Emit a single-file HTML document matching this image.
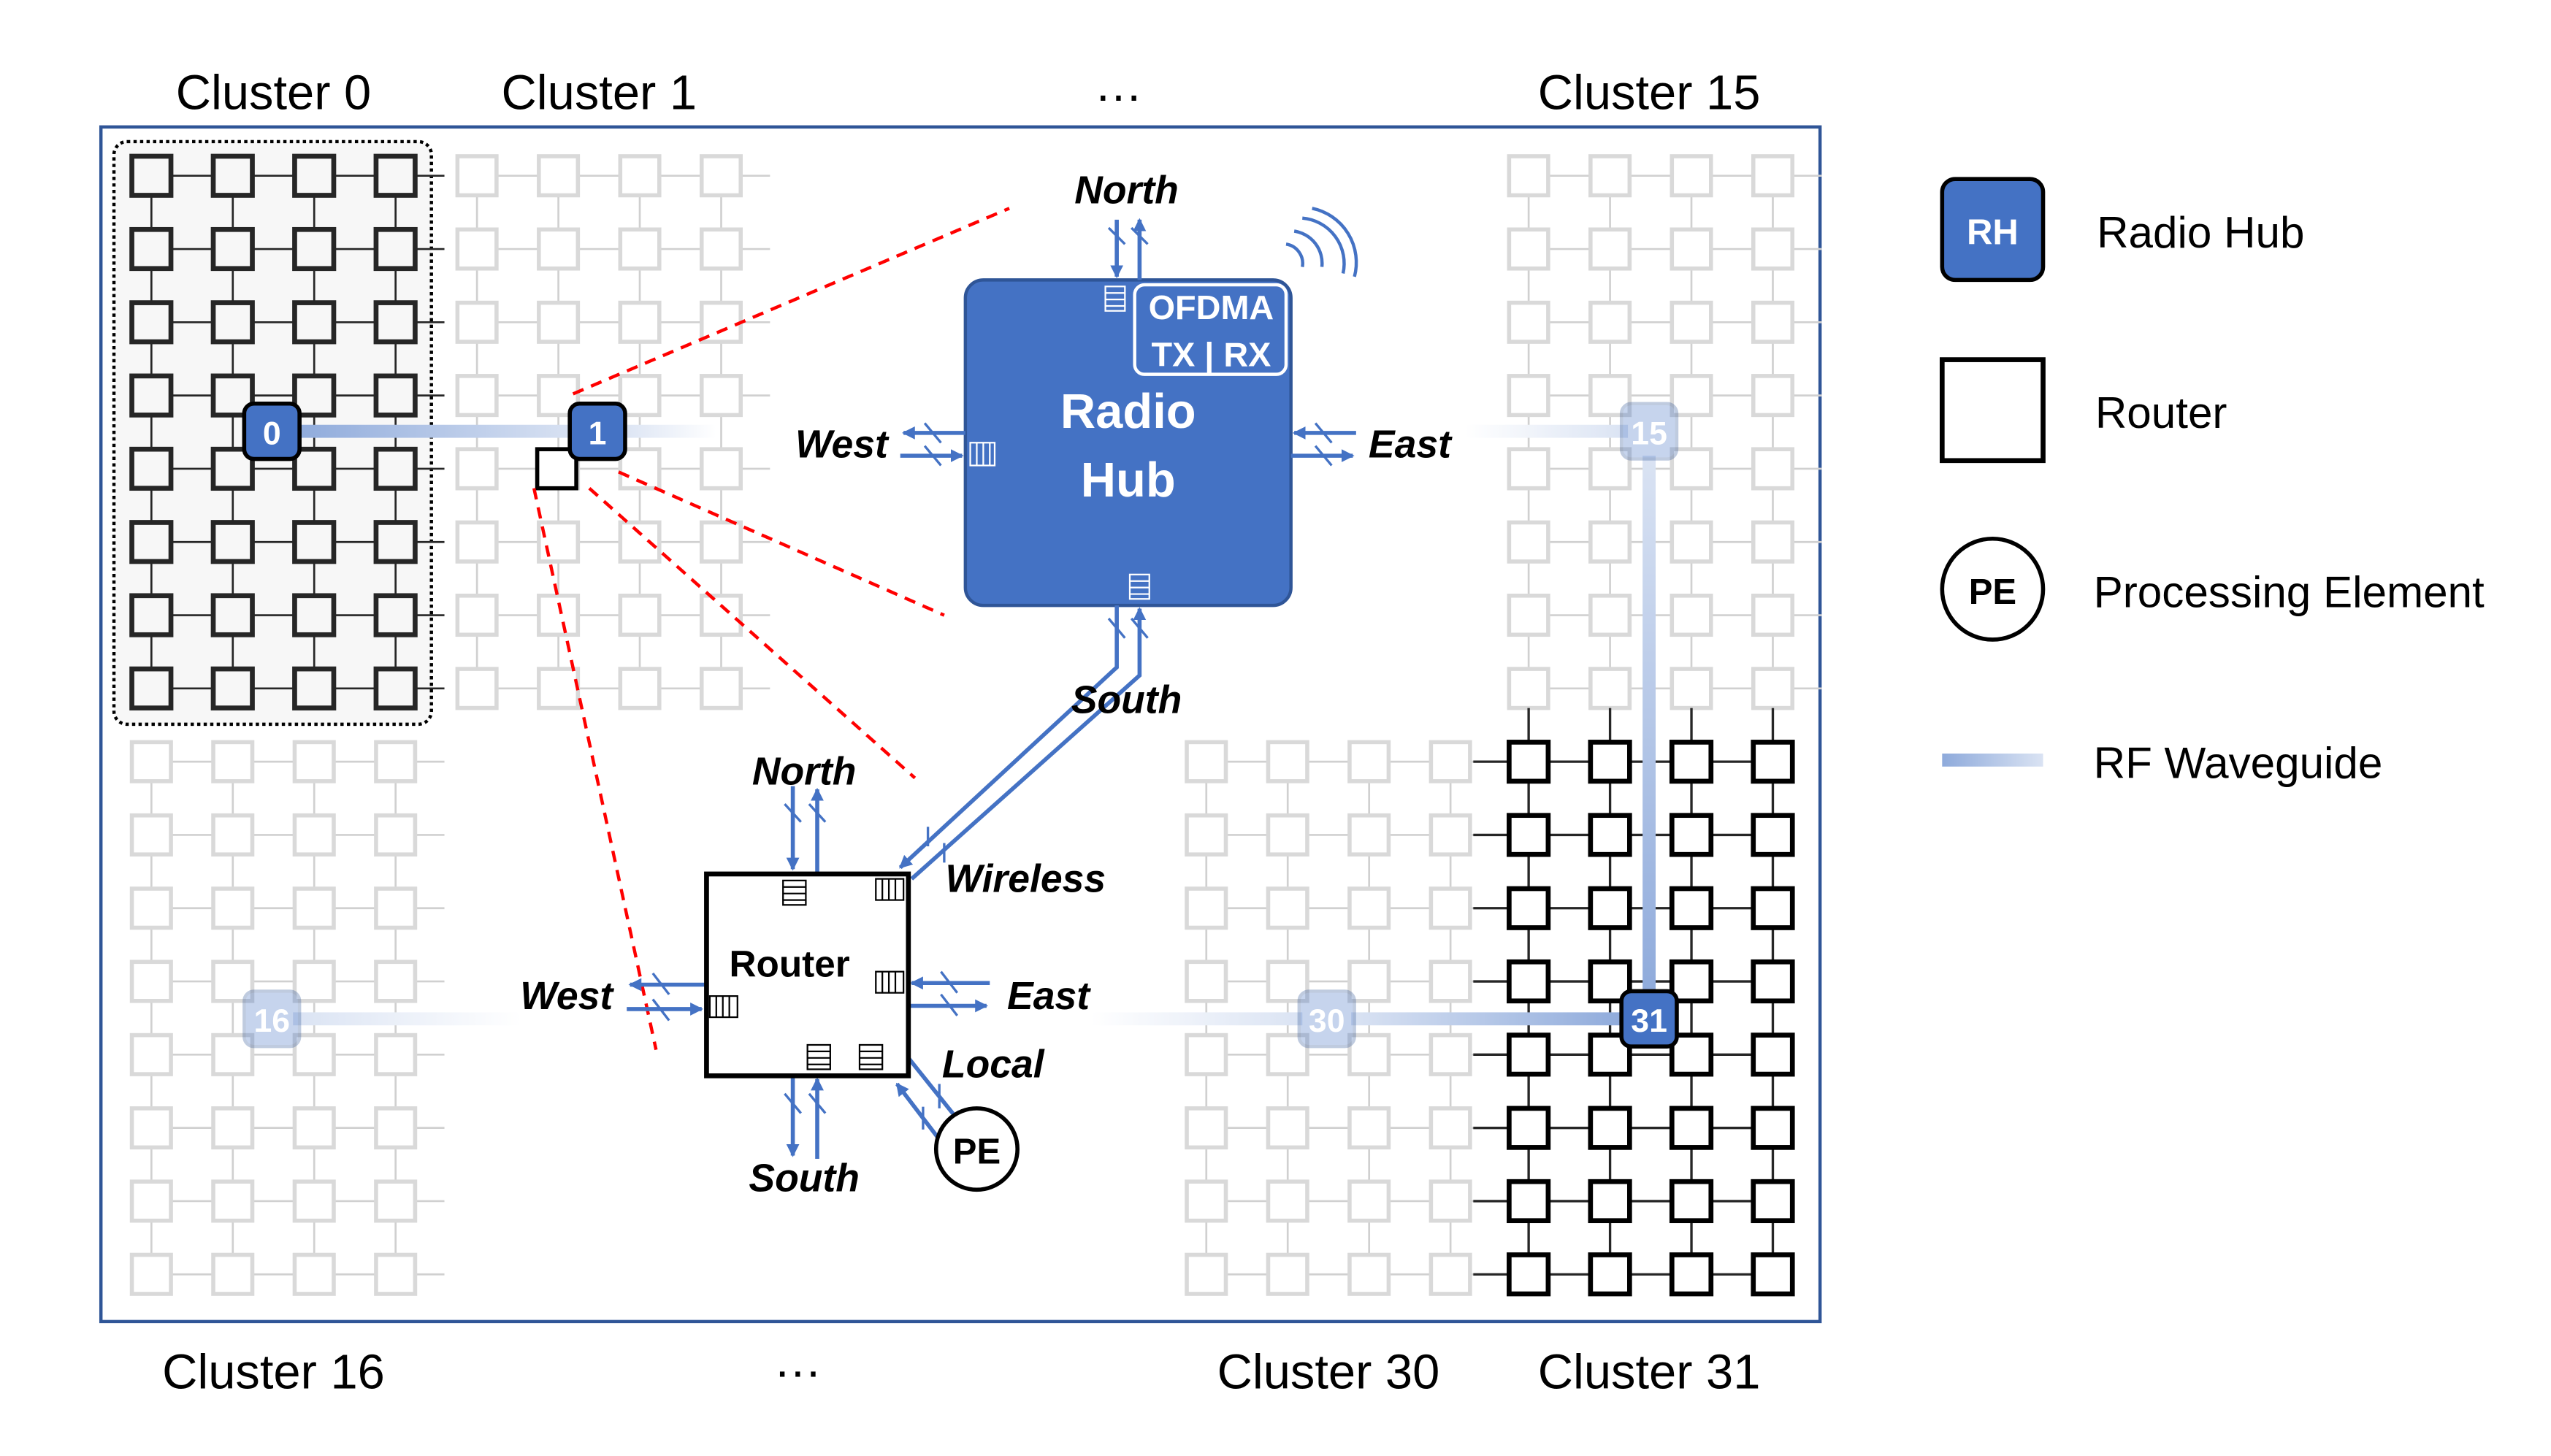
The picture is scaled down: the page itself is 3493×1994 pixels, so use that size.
<!DOCTYPE html>
<html><head><meta charset="utf-8"><style>
html,body{margin:0;padding:0;background:#fff;}
svg{display:block;}
text{font-family:"Liberation Sans",sans-serif;}
.bi{font-weight:bold;font-style:italic;font-size:24px;fill:#000;}
.cl{font-size:30px;fill:#000;text-anchor:middle;}
.lg{font-size:27px;fill:#000;}
</style></head><body>
<svg id="s" width="3493" height="1994" viewBox="0 0 1567 894.6" preserveAspectRatio="none" xmlns="http://www.w3.org/2000/svg">
<defs>
<marker id="ah" markerWidth="8" markerHeight="8" refX="7" refY="4" orient="auto" markerUnits="userSpaceOnUse"><path d="M0,0 L8,4 L0,8 z" fill="#4472c4"/></marker>
<linearGradient id="wgh" x1="0" x2="1" y1="0" y2="0"><stop offset="0" stop-color="#8eaadb"/><stop offset="1" stop-color="#dae3f3"/></linearGradient>
<linearGradient id="fadeR" x1="0" x2="1"><stop offset="0" stop-color="#dae3f3"/><stop offset="1" stop-color="#fff"/></linearGradient>
<linearGradient id="fadeL" x1="0" x2="1"><stop offset="0" stop-color="#fff"/><stop offset="1" stop-color="#dae3f3"/></linearGradient>
<linearGradient id="wgv" x1="0" x2="0" y1="0" y2="1"><stop offset="0" stop-color="#dae3f3"/><stop offset="1" stop-color="#8eaadb"/></linearGradient>
<linearGradient id="wg31" x1="0" x2="1"><stop offset="0" stop-color="#dae3f3"/><stop offset="1" stop-color="#8eaadb"/></linearGradient>
</defs>
<rect x="62" y="78" width="1056" height="734" fill="#fff" stroke="#2f5597" stroke-width="2"/>
<rect x="70" y="87" width="195" height="358" rx="8" fill="#f7f7f7" stroke="#000" stroke-width="2" stroke-dasharray="2,2"/>
<g id="grid"></g>
<rect x="180" y="261" width="175" height="8" fill="url(#wgh)"/>
<rect x="380" y="261" width="60" height="8" fill="url(#fadeR)"/>
<rect x="900" y="261" width="100" height="8" fill="url(#fadeL)"/>
<rect x="1009" y="280" width="8" height="335" fill="url(#wgv)"/>
<rect x="180" y="622" width="140" height="8" fill="url(#fadeR)"/>
<rect x="670" y="622" width="130" height="8" fill="url(#fadeL)"/>
<rect x="830" y="622" width="170" height="8" fill="url(#wg31)"/>
<rect x="330" y="276" width="24" height="24" fill="#fff" stroke="#000" stroke-width="2.5"/>
<g font-weight="bold" font-size="20" text-anchor="middle">
<rect x="150" y="248" width="34" height="34" rx="6" fill="#4472c4" stroke="#000" stroke-width="2.5"/><text x="167" y="273" fill="#fff">0</text>
<rect x="350" y="248" width="34" height="34" rx="6" fill="#4472c4" stroke="#000" stroke-width="2.5"/><text x="367" y="273" fill="#fff">1</text>
<g opacity="0.3"><rect x="996" y="248" width="34" height="34" rx="6" fill="#4472c4" stroke="#2f5597" stroke-width="2"/><text x="1013" y="273" fill="#fff">15</text>
<rect x="150" y="609" width="34" height="34" rx="6" fill="#4472c4" stroke="#2f5597" stroke-width="2"/><text x="167" y="634" fill="#fff">16</text>
<rect x="798" y="609" width="34" height="34" rx="6" fill="#4472c4" stroke="#2f5597" stroke-width="2"/><text x="815" y="634" fill="#fff">30</text></g>
<rect x="996" y="609" width="34" height="34" rx="6" fill="#4472c4" stroke="#000" stroke-width="2.5"/><text x="1013" y="634" fill="#fff">31</text>
</g>
<g stroke="#ff0000" stroke-width="2" stroke-dasharray="7,5" fill="none">
<line x1="352" y1="242" x2="620" y2="128"/>
<line x1="380" y1="290" x2="580" y2="378"/>
<line x1="362" y1="300" x2="562" y2="478"/>
<line x1="328" y1="300" x2="403" y2="645"/>
</g>
<rect x="593" y="172" width="200" height="200" rx="11" fill="#4472c4" stroke="#2f5597" stroke-width="2"/>
<rect x="697" y="175" width="93" height="55" rx="6" fill="none" stroke="#fff" stroke-width="2"/>
<text x="744" y="196" fill="#fff" font-weight="bold" font-size="21" text-anchor="middle">OFDMA</text>
<text x="744" y="225" fill="#fff" font-weight="bold" font-size="21" text-anchor="middle">TX | RX</text>
<text x="693" y="263" fill="#fff" font-weight="bold" font-size="30" text-anchor="middle">Radio</text>
<text x="693" y="305" fill="#fff" font-weight="bold" font-size="30" text-anchor="middle">Hub</text>
<g stroke="#fff" stroke-width="1" fill="none">
<rect x="679" y="176" width="12" height="15"/><line x1="679" y1="180" x2="691" y2="180"/><line x1="679" y1="184" x2="691" y2="184"/><line x1="679" y1="188" x2="691" y2="188"/>
<rect x="694" y="353" width="12" height="15"/><line x1="694" y1="357" x2="706" y2="357"/><line x1="694" y1="361" x2="706" y2="361"/><line x1="694" y1="365" x2="706" y2="365"/>
<rect x="596" y="272" width="15" height="14"/><line x1="600" y1="272" x2="600" y2="286"/><line x1="604" y1="272" x2="604" y2="286"/><line x1="608" y1="272" x2="608" y2="286"/>
</g>
<g stroke="#4472c4" stroke-width="2" fill="none">
<path d="M790,150 a12,12 0 0 1 10,14"/><path d="M795,142 a20,20 0 0 1 17,22"/><path d="M800,134 a28,28 0 0 1 25,34"/><path d="M806,128 a34,34 0 0 1 26,42"/>
</g>
<g stroke="#4472c4" stroke-width="2.5" fill="none">
<line x1="686" y1="135" x2="686" y2="170" marker-end="url(#ah)"/>
<line x1="700" y1="172" x2="700" y2="135" marker-end="url(#ah)"/>
<line x1="593" y1="266" x2="555" y2="266" marker-end="url(#ah)"/>
<line x1="553" y1="280" x2="591" y2="280" marker-end="url(#ah)"/>
<line x1="833" y1="266" x2="795" y2="266" marker-end="url(#ah)"/>
<line x1="793" y1="280" x2="831" y2="280" marker-end="url(#ah)"/>
<polyline points="686,372 686,410 553,533" marker-end="url(#ah)"/>
<polyline points="560,540 700,415 700,374" marker-end="url(#ah)"/>
<line x1="487" y1="483" x2="487" y2="534" marker-end="url(#ah)"/>
<line x1="502" y1="536" x2="502" y2="485" marker-end="url(#ah)"/>
<line x1="433" y1="605" x2="387" y2="605" marker-end="url(#ah)"/>
<line x1="385" y1="620" x2="431" y2="620" marker-end="url(#ah)"/>
<line x1="608" y1="604" x2="560" y2="604" marker-end="url(#ah)"/>
<line x1="558" y1="618" x2="606" y2="618" marker-end="url(#ah)"/>
<line x1="487" y1="661" x2="487" y2="710" marker-end="url(#ah)"/>
<line x1="502" y1="712" x2="502" y2="663" marker-end="url(#ah)"/>
<line x1="558" y1="650" x2="590" y2="690" marker-end="url(#ah)"/>
<line x1="583" y1="708" x2="551" y2="666" marker-end="url(#ah)"/>
</g>
<g stroke="#4472c4" stroke-width="1.5">
<line x1="681" y1="140" x2="691" y2="150"/><line x1="695" y1="140" x2="705" y2="150"/>
<line x1="568" y1="260" x2="578" y2="272"/><line x1="568" y1="274" x2="578" y2="286"/>
<line x1="808" y1="260" x2="818" y2="272"/><line x1="808" y1="274" x2="818" y2="286"/>
<line x1="681" y1="380" x2="691" y2="392"/><line x1="695" y1="380" x2="705" y2="392"/>
<line x1="482" y1="494" x2="492" y2="505"/><line x1="497" y1="494" x2="507" y2="505"/>
<line x1="401" y1="598" x2="411" y2="611"/><line x1="401" y1="614" x2="411" y2="627"/>
<line x1="578" y1="597" x2="588" y2="610"/><line x1="578" y1="611" x2="588" y2="624"/>
<line x1="482" y1="672" x2="492" y2="684"/><line x1="497" y1="672" x2="507" y2="684"/>
<line x1="570" y1="508" x2="570" y2="520"/><line x1="580" y1="518" x2="580" y2="530"/>
<line x1="577" y1="666" x2="577" y2="681"/><line x1="567" y1="680" x2="567" y2="694"/>
</g>
<rect x="434" y="537" width="124" height="124" fill="#fff" stroke="#000" stroke-width="3"/>
<text x="485" y="600" font-weight="bold" font-size="23" text-anchor="middle">Router</text>
<g stroke="#000" stroke-width="1" fill="none">
<rect x="481" y="541" width="14" height="15"/><line x1="481" y1="545" x2="495" y2="545"/><line x1="481" y1="549" x2="495" y2="549"/><line x1="481" y1="553" x2="495" y2="553"/>
<rect x="496" y="642" width="14" height="15"/><line x1="496" y1="646" x2="510" y2="646"/><line x1="496" y1="650" x2="510" y2="650"/><line x1="496" y1="654" x2="510" y2="654"/>
<rect x="528" y="642" width="14" height="15"/><line x1="528" y1="646" x2="542" y2="646"/><line x1="528" y1="650" x2="542" y2="650"/><line x1="528" y1="654" x2="542" y2="654"/>
<rect x="538" y="540" width="17" height="13"/><line x1="542" y1="540" x2="542" y2="553"/><line x1="546" y1="540" x2="546" y2="553"/><line x1="550" y1="540" x2="550" y2="553"/>
<rect x="538" y="597" width="17" height="13"/><line x1="542" y1="597" x2="542" y2="610"/><line x1="546" y1="597" x2="546" y2="610"/><line x1="550" y1="597" x2="550" y2="610"/>
<rect x="436" y="612" width="17" height="13"/><line x1="440" y1="612" x2="440" y2="625"/><line x1="444" y1="612" x2="444" y2="625"/><line x1="448" y1="612" x2="448" y2="625"/>
</g>
<circle cx="600" cy="706" r="25" fill="#fff" stroke="#000" stroke-width="2.5"/>
<text x="600" y="715" font-weight="bold" font-size="22" text-anchor="middle">PE</text>
<text class="bi" x="692" y="125" text-anchor="middle">North</text>
<text class="bi" x="517" y="281" text-anchor="middle">West</text>
<text class="bi" x="866" y="281" text-anchor="middle">East</text>
<text class="bi" x="692" y="438" text-anchor="middle">South</text>
<text class="bi" x="494" y="482" text-anchor="middle">North</text>
<text class="bi" x="630" y="548" text-anchor="middle">Wireless</text>
<text class="bi" x="348" y="620" text-anchor="middle">West</text>
<text class="bi" x="644" y="620" text-anchor="middle">East</text>
<text class="bi" x="610" y="662" text-anchor="middle">Local</text>
<text class="bi" x="494" y="732" text-anchor="middle">South</text>
<text class="cl" x="168" y="67">Cluster 0</text>
<text class="cl" x="368" y="67">Cluster 1</text>
<text class="cl" x="687" y="62">…</text>
<text class="cl" x="1013" y="67">Cluster 15</text>
<text class="cl" x="168" y="853">Cluster 16</text>
<text class="cl" x="490" y="846">…</text>
<text class="cl" x="816" y="853">Cluster 30</text>
<text class="cl" x="1013" y="853">Cluster 31</text>
<rect x="1193" y="110" width="62" height="62" rx="8" fill="#4472c4" stroke="#000" stroke-width="2.5"/>
<text x="1224" y="150" fill="#fff" font-weight="bold" font-size="22" text-anchor="middle">RH</text>
<text class="lg" x="1288" y="152">Radio Hub</text>
<rect x="1193" y="221" width="62" height="62" fill="#fff" stroke="#000" stroke-width="3"/>
<text class="lg" x="1287" y="263">Router</text>
<circle cx="1224" cy="362" r="31" fill="#fff" stroke="#000" stroke-width="2.5"/>
<text x="1224" y="371" font-weight="bold" font-size="22" text-anchor="middle">PE</text>
<text class="lg" x="1286" y="373">Processing Element</text>
<rect x="1193" y="463" width="62" height="8" fill="url(#wgh)"/>
<text class="lg" x="1286" y="478">RF Waveguide</text>
</svg>
<script>
(function(){
var g=document.getElementById('grid'),h='';
var rows=[108,153,198,243,288,333,378,423],rows2=[468,513,558,603,648,693,738,783];
function cl(cols,rs,dark){
 var c=dark?'#262626':'#d9d9d9',lc=dark?'#262626':'#d0d0d0',sw=dark?3:2.5;
 for(var i=0;i<rs.length;i++){h+='<line x1="'+(cols[0]-12)+'" y1="'+rs[i]+'" x2="'+(cols[3]+30)+'" y2="'+rs[i]+'" stroke="'+lc+'" stroke-width="1.2"/>';}
 for(var j=0;j<4;j++){h+='<line x1="'+cols[j]+'" y1="'+(rs[0]-12)+'" x2="'+cols[j]+'" y2="'+(rs[7]+12)+'" stroke="'+lc+'" stroke-width="1.2"/>';}
 for(var i=0;i<rs.length;i++)for(var j=0;j<4;j++){h+='<rect x="'+(cols[j]-12)+'" y="'+(rs[i]-12)+'" width="24" height="24" fill="'+(dark?'#f7f7f7':'#fff')+'" stroke="'+c+'" stroke-width="'+sw+'"/>';}
}
cl([293,343,393,443],rows,false);
cl([93,143,193,243],rows2,false);
cl([939,989,1039,1089],rows,false);
cl([741,791,841,891],rows2,false);
cl([93,143,193,243],rows,true);
var cols=[939,989,1039,1089];
for(var i=0;i<8;i++){h+='<line x1="905" y1="'+rows2[i]+'" x2="1089" y2="'+rows2[i]+'" stroke="#262626" stroke-width="1.5"/>';}
for(var j=0;j<4;j++){h+='<line x1="'+cols[j]+'" y1="435" x2="'+cols[j]+'" y2="783" stroke="#262626" stroke-width="1.5"/>';}
for(var i=0;i<8;i++)for(var j=0;j<4;j++){h+='<rect x="'+(cols[j]-12)+'" y="'+(rows2[i]-12)+'" width="24" height="24" fill="#fff" stroke="#000" stroke-width="3"/>';}
g.innerHTML=h;
})();
</script>
</body></html>
